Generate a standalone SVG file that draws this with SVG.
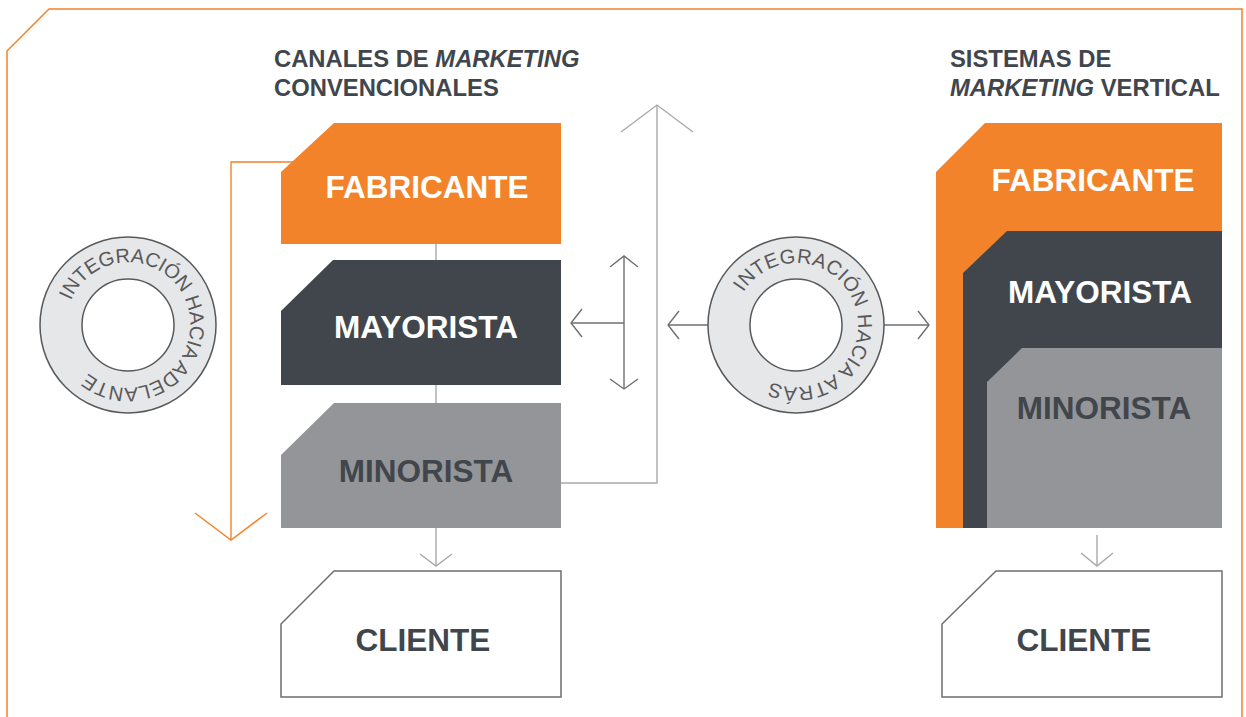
<svg xmlns="http://www.w3.org/2000/svg" width="1246" height="717" viewBox="0 0 1246 717">
<style>
  text { font-family: "Liberation Sans", Arial, Helvetica, sans-serif; }
  .lbl { font-weight: bold; font-size: 31.5px; text-anchor: middle; }
  .w { fill: #ffffff; }
  .d { fill: #41464d; }
  .title { font-weight: bold; font-size: 23.8px; fill: #41464d; }
  .ring { fill: #e6e7e8; stroke: #58595b; stroke-width: 1.5; }
  .hole { fill: #ffffff; stroke: #58595b; stroke-width: 1.5; }
  .rtxt { font-size: 20px; fill: #58595b; }
  .orange { fill: #f2832a; }
  .dark { fill: #41464d; }
  .gray { fill: #939598; }
  .client { fill: #ffffff; stroke: #6d6e71; stroke-width: 1.5; }
  .cl { fill: none; stroke: #a7a9ac; stroke-width: 1.4; }
  .cd { fill: none; stroke: #6d6e71; stroke-width: 1.4; }
  .co { fill: none; stroke: #f2832a; stroke-width: 1.4; }
</style>
<defs>
  <path id="ringL" d="M70.93,300.78 A62,62 0 1,1 185.07,349.22 A62,62 0 1,1 70.93,300.78"/>
  <path id="ringM" d="M743.42,292.14 A62,62 0 1,1 848.58,357.86 A62,62 0 1,1 743.42,292.14"/>
</defs>
<rect width="1246" height="717" fill="#ffffff"/>
<path id="frame" d="M7,717 V51 L49,9 H1242 V717" fill="none" stroke="#f2832a" stroke-width="1.5"/>

<g id="titles">
  <text class="title" x="274" y="67">CANALES DE <tspan font-style="italic">MARKETING</tspan></text>
  <text class="title" x="274" y="96">CONVENCIONALES</text>
  <text class="title" x="950" y="67">SISTEMAS DE</text>
  <text class="title" x="950" y="96"><tspan font-style="italic">MARKETING</tspan> VERTICAL</text>
</g>

<g id="connectors">
  <polyline class="co" points="293,162 231,162 231,540"/>
  <polyline class="co" points="195,513 231,540 267,513"/>
  <line class="cl" x1="436" y1="244" x2="436" y2="260"/>
  <line class="cl" x1="436" y1="385" x2="436" y2="403"/>
  <line class="cl" x1="436" y1="528" x2="436" y2="566"/>
  <polyline class="cl" points="420,554 436,566 452,554"/>
  <polyline class="cl" points="561,483 657,483 657,105"/>
  <polyline class="cl" points="621,132 657,105 693,132"/>
  <line class="cd" x1="624" y1="256" x2="624" y2="389"/>
  <polyline class="cd" points="610,267 624,256 638,267"/>
  <polyline class="cd" points="610,379 624,389 638,379"/>
  <line class="cd" x1="624" y1="323" x2="571" y2="323"/>
  <polyline class="cd" points="582,309 571,323 582,337"/>
  <line class="cd" x1="708" y1="325" x2="668" y2="325"/>
  <polyline class="cd" points="679,311 668,325 679,339"/>
  <line class="cd" x1="884" y1="325" x2="929" y2="325"/>
  <polyline class="cd" points="918,311 929,325 918,339"/>
  <line class="cl" x1="1097" y1="535" x2="1097" y2="566"/>
  <polyline class="cl" points="1081,553 1097,566 1113,553"/>
</g>

<g id="ring-adelante">
  <circle class="ring" cx="128" cy="325" r="88"/>
  <circle class="hole" cx="128" cy="325" r="46"/>
  <text class="rtxt"><textPath href="#ringL" textLength="312" lengthAdjust="spacing">INTEGRACIÓN HACIA ADELANTE</textPath></text>
</g>

<g id="ring-atras">
  <circle class="ring" cx="796" cy="325" r="88"/>
  <circle class="hole" cx="796" cy="325" r="46"/>
  <text class="rtxt"><textPath href="#ringM" textLength="283" lengthAdjust="spacing">INTEGRACIÓN HACIA ATRÁS</textPath></text>
</g>

<g id="fabricante-conv">
  <polygon class="orange" points="334,123 561,123 561,244 281,244 281,172"/>
  <text class="lbl w" x="427" y="198">FABRICANTE</text>
</g>
<g id="mayorista-conv">
  <polygon class="dark" points="333,260 561,260 561,385 281,385 281,311"/>
  <text class="lbl w" x="426" y="338">MAYORISTA</text>
</g>
<g id="minorista-conv">
  <polygon class="gray" points="334,403 561,403 561,528 281,528 281,455"/>
  <text class="lbl d" x="426" y="482">MINORISTA</text>
</g>
<g id="cliente-conv">
  <polygon class="client" points="334,571 561,571 561,697 281,697 281,624"/>
  <text class="lbl d" x="423" y="651">CLIENTE</text>
</g>

<g id="fabricante-vert">
  <polygon class="orange" points="985,123 1222,123 1222,528 936,528 936,172"/>
  <text class="lbl w" x="1093" y="191">FABRICANTE</text>
</g>
<g id="mayorista-vert">
  <polygon class="dark" points="1007,231 1222,231 1222,528 963,528 963,273"/>
  <text class="lbl w" x="1100" y="303">MAYORISTA</text>
</g>
<g id="minorista-vert">
  <polygon class="gray" points="1022,348 1222,348 1222,528 987,528 987,382"/>
  <text class="lbl d" x="1104" y="419">MINORISTA</text>
</g>
<g id="cliente-vert">
  <polygon class="client" points="996,571 1222,571 1222,697 942,697 942,624"/>
  <text class="lbl d" x="1084" y="651">CLIENTE</text>
</g>
</svg>
